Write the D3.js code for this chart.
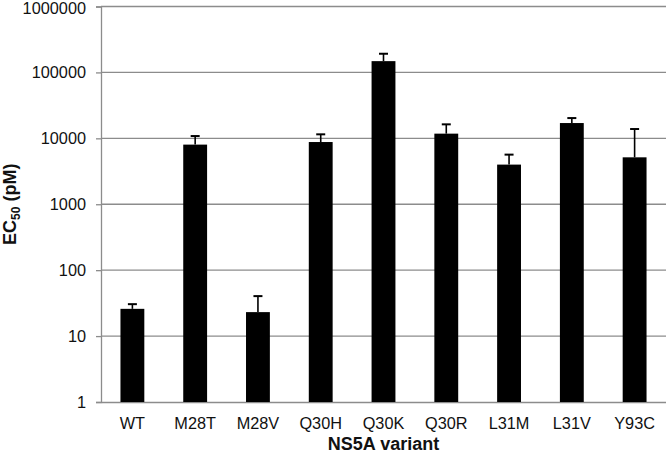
<!DOCTYPE html>
<html>
<head>
<meta charset="utf-8">
<script src="https://cdn.jsdelivr.net/npm/d3@7"></script>
<style>
  body { margin: 0; background: #fff; }
  svg { display: block; font-family: "Liberation Sans", Arial, sans-serif; }
</style>
</head>
<body>
<svg id="chart" width="666" height="454"></svg>
<script>
const categories = ["WT", "M28T", "M28V", "Q30H", "Q30K", "Q30R", "L31M", "L31V", "Y93C"];
const ec50Values = [25.9, 8030, 23.1, 8790, 148300, 11780, 3995, 17060, 5150];
const errorTops = [30.5, 10830, 40.4, 11500, 192000, 16300, 5660, 20300, 13840];
const yTicks = [1, 10, 100, 1000, 10000, 100000, 1000000];

(function () {
const svg = d3.select("#chart");
const mLeft = 101, mRight = 666, mTop = 6.5, mBottom = 402;

const x = d3.scaleBand().domain(categories).range([mLeft, mRight]).paddingInner(0.62).paddingOuter(0.31);
const y = d3.scaleLog().domain([1, 1000000]).range([mBottom, mTop]);

// gridlines
svg.append("g").selectAll("line").data(yTicks.slice(1)).join("line")
  .attr("x1", mLeft).attr("x2", mRight)
  .attr("y1", d => y(d)).attr("y2", d => y(d))
  .attr("stroke", "#8c8c8c").attr("stroke-width", 1.3);

// y axis
const yAxis = d3.axisLeft(y).tickValues(yTicks).tickFormat(d3.format("d")).tickSize(5).tickPadding(10);
const gy = svg.append("g").attr("transform", `translate(${mLeft},0)`).call(yAxis);
gy.select(".domain").attr("stroke", "#8c8c8c").attr("stroke-width", 1.3);
gy.selectAll(".tick line").attr("stroke", "#8c8c8c").attr("stroke-width", 1.3);
gy.selectAll(".tick text").attr("font-size", 16.3).attr("fill", "#111").attr("font-family", "Liberation Sans, Arial, sans-serif")
  .attr("dy", d => d === 1000000 ? "0.42em" : "0.32em");

// x axis
const xAxis = d3.axisBottom(x).tickSize(0).tickPadding(15.6);
const gx = svg.append("g").attr("transform", `translate(0,${mBottom})`).call(xAxis);
gx.select(".domain").attr("stroke", "#8c8c8c").attr("stroke-width", 1.3);
gx.selectAll(".tick text").attr("font-size", 16.3).attr("fill", "#111").attr("font-family", "Liberation Sans, Arial, sans-serif");

// bars
svg.append("g").selectAll("rect").data(categories).join("rect")
  .attr("x", d => x(d))
  .attr("width", x.bandwidth())
  .attr("y", (d, i) => y(ec50Values[i]))
  .attr("height", (d, i) => mBottom - y(ec50Values[i]))
  .attr("fill", "#000");

// error bars
const eg = svg.append("g").attr("stroke", "#000").attr("stroke-width", 1.6);
categories.forEach((c, i) => {
  const cx = x(c) + x.bandwidth() / 2;
  eg.append("line").attr("x1", cx).attr("x2", cx).attr("y1", y(ec50Values[i])).attr("y2", y(errorTops[i]));
  eg.append("line").attr("x1", cx - 4.5).attr("x2", cx + 4.5).attr("y1", y(errorTops[i])).attr("y2", y(errorTops[i])).attr("stroke-width", 2);
});

// y title
const yt = svg.append("text")
  .attr("transform", `translate(16,${(mTop + mBottom) / 2}) rotate(-90)`)
  .attr("text-anchor", "middle")
  .attr("font-size", 18).attr("font-weight", "bold").attr("fill", "#111");
yt.append("tspan").text("EC");
yt.append("tspan").text("50").attr("font-size", 12).attr("dy", 4);
yt.append("tspan").text(" (pM)").attr("dy", -4);

// x title
svg.append("text")
  .attr("x", (mLeft + mRight) / 2).attr("y", 449.5)
  .attr("text-anchor", "middle")
  .attr("font-size", 18).attr("font-weight", "bold").attr("fill", "#111")
  .text("NS5A variant");
})();
</script>
</body>
</html>
